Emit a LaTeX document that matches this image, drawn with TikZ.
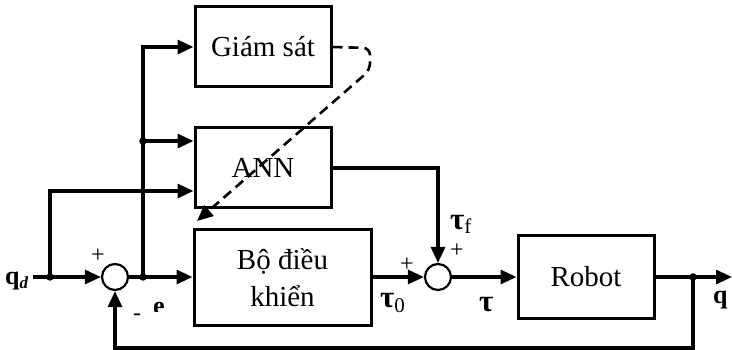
\documentclass[tikz,border=0pt]{standalone}
\usepackage{fontspec}
\setmainfont{Liberation Serif}
\usetikzlibrary{arrows.meta}
\begin{document}
\begin{tikzpicture}[x=1pt,y=-1pt,
  blk/.style={draw,line width=3pt,minimum width=136pt,minimum height=80pt,inner sep=0pt,font=\fontsize{29}{37}\selectfont},
  sumj/.style={draw,circle,line width=2.2pt,minimum size=26pt,inner sep=0pt},
  dotn/.style={circle,fill,inner sep=0pt,minimum size=7.5pt},
  wire/.style={line width=3.1pt},
  arr/.style={wire,-{Triangle[length=16pt,width=14pt]}},
  lbl/.style={inner sep=0pt,font=\fontsize{26}{26}\selectfont\bfseries},
  tlbl/.style={inner sep=0pt,font=\fontsize{31}{31}\selectfont\bfseries},
  sgn/.style={inner sep=0pt,font=\fontsize{24}{24}\selectfont}]
\useasboundingbox (0,0) rectangle (732,350);
% blocks
\node[blk] (gs) at (263,47) {Giám sát};
\node[blk] (ann) at (263,168) {ANN};
\node[blk,minimum width=177pt,minimum height=95pt,align=center] (ctrl) at (282.5,277.5) {Bộ điều\\khiển};
\node[blk,minimum height=82pt] (rob) at (586,277) {Robot};
\node[sumj] (s1) at (115,277) {};
\node[sumj] (s2) at (438,277) {};
\node[dotn] (d1) at (50,277) {};
\node[dotn] (d2) at (143,277) {};
\node[dotn] (d3) at (143,141) {};
\node[dotn] (d4) at (693,277) {};
\coordinate (qin) at (33,277);
\coordinate (qout) at (732,277);
\coordinate (fb) at (693,348);
\coordinate (dc1) at (370,48);
\coordinate (dc2) at (370,70);
\coordinate (dtip) at (197,221);
% connectors
\draw[arr] (qin) -- (s1.west);
\draw[arr] (d1.center) |- ([yshift=-23pt]ann.west);
\draw[arr] (s1.east) -- (s1.east -| ctrl.west);
\draw[wire] (d2.center) -- (d3.center);
\draw[arr] (d3.center) |- (gs.west);
\draw[arr] (d3.center) -- (d3 -| ann.west);
\draw[arr] (ann.east) -| (s2.north);
\draw[arr] (ctrl.east |- s2) -- (s2.west);
\draw[arr] (s2.east) -- (s2 -| rob.west);
\draw[arr] (rob.east) -- (qout);
\draw[arr] (d4.center) -- (fb) -| (s1.south);
\draw[line width=2.6pt,dash pattern=on 10pt off 6pt,rounded corners=7pt,-{Triangle[length=16pt,width=14pt]}]
  (gs.east) -- (dc1) -- (dc2) -- (dtip);
% labels
\begin{scope}
\clip (0,0) rectangle (60,290);
\node[lbl,anchor=base west] (qd) at (5,285) {q\raisebox{-4pt}{\fontsize{17}{17}\selectfont\itshape d}};
\end{scope}
\begin{scope}
\clip (145,295) rectangle (175,312);
\node[lbl,anchor=base] (e) at (159,314) {e};
\end{scope}
\node[sgn] (p1) at (98,256) {+};
\node[sgn] (m1) at (137,317) {-};
\node[sgn] (p2) at (407,265) {+};
\node[sgn] (p3) at (457,251) {+};
\node[tlbl,anchor=base west] (tf) at (450,230) {τ\raisebox{-4pt}{\fontsize{21}{21}\selectfont\mdseries f}};
\node[tlbl,anchor=base west] (t0) at (380,308) {τ\raisebox{-5pt}{\fontsize{21}{21}\selectfont\mdseries 0}};
\node[tlbl,anchor=base west] (tau) at (479,312) {τ};
\node[lbl,anchor=base west] (q) at (713,304) {q};
\end{tikzpicture}
\end{document}
